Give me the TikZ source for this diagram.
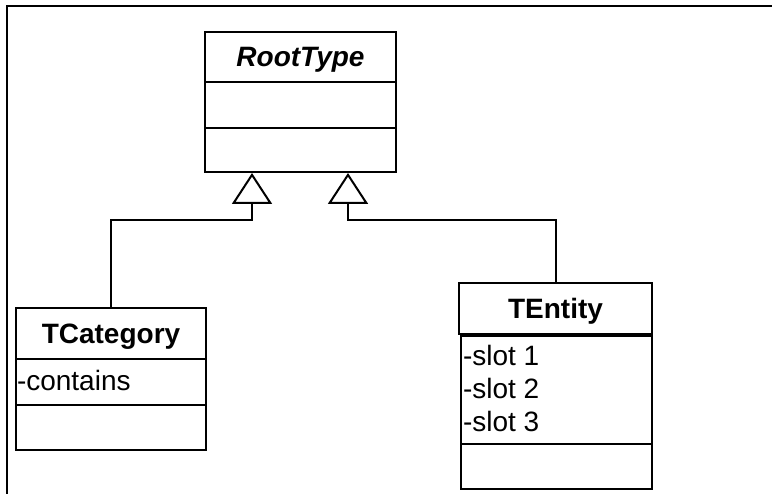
\documentclass[tikz,border=0pt]{standalone}
\usepackage{fontspec}
\setmainfont{Liberation Sans}
\usetikzlibrary{arrows.meta}

\begin{document}
\begin{tikzpicture}[x=1pt, y=-1pt, line width=2pt,
    every node/.style={inner sep=0pt, font=\fontsize{28}{33}\selectfont},
    cls/.style={draw, minimum width=191pt, text depth=0pt},
    slot/.style={anchor=base west},
    inherit/.style={-{Triangle[open, length=31pt, width=40pt]}}]
\useasboundingbox (0,0) rectangle (772,494);
\draw[line width=2.6pt] (772,6) -- (7,6) -- (7,494);
    % RootType
    \node[cls, minimum height=50pt] (root1) at (300.5,57) {\bfseries\itshape RootType};
    \node[cls, minimum height=46pt] (root2) at (300.5,105) {};
    \node[cls, minimum height=44pt] (root3) at (300.5,150) {};
    % TCategory
    \node[cls, minimum width=190pt, minimum height=51pt] (tcat1) at (111,333.5) {\bfseries TCategory};
    \node[cls, minimum width=190pt, minimum height=46pt] (tcat2) at (111,382) {};
    \node[cls, minimum width=190pt, minimum height=45pt] (tcat3) at (111,427.5) {};
    \node[slot] (t1) at (16,391) {-contains};
    % TEntity
    \node[cls, minimum width=193pt, minimum height=51pt] (tent1) at (555.5,308.5) {\bfseries TEntity};
    \node[cls, minimum height=108pt] (tent2) at (556.5,390) {};
    \node[cls, minimum height=45pt] (tent3) at (556.5,466.5) {};
    \foreach \i/\y in {1/366, 2/399, 3/432}
        \node[slot] (s\i) at (462,\y) {-slot \i};
\coordinate (bendL) at (252,220);
\coordinate (bendR) at (348,220);
    \foreach \from/\bend in {tcat1/bendL, tent1/bendR}
        \draw[inherit] (\from.north) |- (\bend) -- (\bend |- root3.south);
\end{tikzpicture}
\end{document}
